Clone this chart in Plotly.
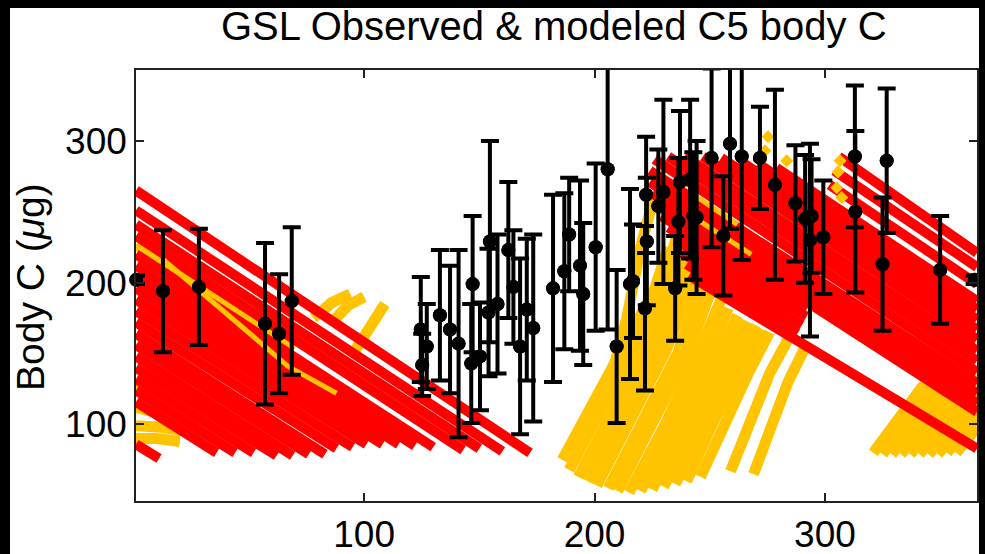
import plotly.graph_objects as go

# ---------------- observed C5 body C (mean +/- error) ----------------
obs_day = [1, 12.7, 28.3, 57.0, 63.1, 68.6,
           124.6, 127.2, 125.2, 132.9, 137.3, 141.0, 147.1, 146.5, 150.3, 154.0, 154.6, 157.9, 162.6, 164.8, 167.7, 170.6, 173.4,
           182.0, 186.9, 189.0, 193.7, 195.1, 200.5, 205.7, 209.6, 215.4, 216.7, 221.9, 222.4, 222.7, 227.7, 229.9, 235.0, 236.4, 237.1, 241.5,
           242.9, 244.3, 250.8, 255.9, 258.8, 263.9, 271.8, 278.3, 287.2, 291.4, 293.5, 294.2, 299.3, 313.0, 313.2, 325.0, 326.8, 350.0, 365.0]
obs_c = [202, 194, 197, 171, 164, 187,
         167, 155, 142, 177, 167, 157, 199, 143, 148, 179, 229, 185, 223, 197, 155, 181, 168,
         196, 208, 234, 212, 192, 225, 280, 155, 199, 201, 182, 262, 229, 254, 264, 196, 243, 271, 273,
         247, 246, 288, 233, 298, 289, 288, 269, 256, 245, 230, 247, 232, 289, 250, 213, 286, 209, 202]
obs_err = [3, 43, 41, 57, 42, 52,
           37, 30, 22, 46, 45, 66, 48, 42, 38, 45, 71, 49, 48, 40, 62, 50, 66,
           66, 55, 40, 60, 50, 59, 113, 54, 67, 40, 58, 41, 45, 40, 65, 37, 45, 50, 56,
           45, 54, 63, 42, 60, 73, 36, 67, 41, 45, 68, 40, 40, 50, 57, 47, 51, 38, 3]

# ---------------- modeled trajectories: declining (red) segments ----------------
red_x0 = [1, 1, 1, 1, 1, 1, 1, 1, 1, 1, 1, 1, 1, 1, 1, 1, 1, 1, 1,
          306, 304, 302, 279, 271, 263, 255, 247, 239, 232, 226, 224, 224, 225, 227, 241,
          229, 232, 235, 238, 240]
red_y0 = [265, 251, 241, 233, 220, 212, 204, 196, 188, 180, 172, 164, 156, 148, 140, 132, 124, 116, 86,
          289, 279, 269, 281, 284, 286, 288, 289, 289, 289, 287, 279, 271, 263, 255, 205,
          247, 239, 230, 221, 213]
red_x1 = [172, 160, 150, 143, 130, 122, 115, 108, 101, 95, 88, 83, 76, 69, 62, 52, 44, 36, 11,
          366, 366, 366, 366, 366, 366, 366, 366, 366, 366, 366, 366, 366, 366, 366, 366,
          292, 292, 292, 290, 288]
red_y1 = [80, 81, 83, 82, 84, 85, 86, 86, 86, 84, 83, 79, 79, 78, 78, 80, 80, 80, 76,
          221, 211, 199, 187, 181, 174, 167, 160, 152, 145, 137, 129, 122, 115, 109, 83,
          184, 181, 176, 170, 164]

# ---------------- modeled trajectories: growth (yellow) paths ----------------
yellow_day = [
    [1, 70], [1, 14, 30], [1, 13, 29], [1, 12, 28], [1, 10, 20],
    [78, 86, 94], [86, 93, 100], [96, 103, 109],
    [186, 200, 215, 226, 232], [205, 214, 220, 226],
    [189, 204, 219, 230, 236], [193, 208, 223, 234, 240], [197, 212, 227, 238, 244],
    [201, 216, 231, 242, 247], [206, 221, 236, 246, 250], [210, 225, 240, 250, 254],
    [215, 230, 244, 254, 258], [220, 234, 248, 258], [225, 239, 252, 262],
    [230, 243, 256, 266], [235, 247, 260, 270], [240, 251, 263, 273],
    [246, 256, 267, 276], [259, 267, 276, 284], [269, 276, 284, 291],
    [321, 332, 342, 350], [325, 336, 346, 354], [329, 340, 350, 358], [333, 344, 354, 362],
    [337, 348, 358, 366], [341, 352, 362, 366], [345, 356, 366], [349, 359, 366],
    [353, 362, 366], [357, 366],
]
yellow_c = [
    [227, 154], [128, 116, 102], [112, 107, 98], [99, 98, 94], [90, 90, 88],
    [175, 186, 192], [172, 184, 190], [152, 170, 185],
    [75, 118, 160, 195, 225], [120, 175, 225, 262],
    [68, 114, 160, 200, 235], [63, 110, 157, 200, 240], [60, 106, 155, 200, 240],
    [57, 103, 152, 198, 230], [55, 101, 150, 196, 215], [53, 99, 148, 192, 205],
    [52, 98, 146, 188, 200], [53, 98, 144, 182], [54, 98, 142, 177],
    [56, 99, 140, 173], [58, 99, 139, 170], [60, 100, 138, 167],
    [63, 100, 137, 165], [67, 100, 136, 160], [65, 98, 130, 153],
    [80, 104, 126, 140], [79, 103, 124, 139], [79, 102, 122, 138], [79, 101, 121, 136],
    [79, 101, 120, 134], [79, 100, 118, 125], [79, 99, 117], [79, 99, 111],
    [80, 98, 105], [80, 98],
]

# yellow trajectories that show through on top of the red bands
yellow_top_day = [[13, 67, 88], [243, 262], [246, 268]]
yellow_top_c = [[216, 141, 122], [262, 241], [243, 220]]

# isolated yellow model points near the tops of the declining bands
ydot_day = [274.0, 275.3, 283.4, 305.1, 305.7, 306.6, 307.3]
ydot_c = [293, 303, 286, 267, 278, 286, 260]

x_ticks = [100, 200, 300]
y_ticks = [100, 200, 300]

RED = "#FF0000"
YEL = "#FFC300"
FONT = "Liberation Sans, Arial, Helvetica, sans-serif"


def paths(xs_list, ys_list):
    px_, py_ = [], []
    for xs, ys in zip(xs_list, ys_list):
        px_ += list(xs) + [None]
        py_ += list(ys) + [None]
    return px_, py_


yx, yy = paths(yellow_day, yellow_c)
rx, ry = paths([[a, c] for a, c in zip(red_x0, red_x1)],
               [[b, d] for b, d in zip(red_y0, red_y1)])
ytx, yty = paths(yellow_top_day, yellow_top_c)

fig = go.Figure()
fig.add_trace(go.Scatter(x=yx, y=yy, mode="lines", line=dict(color=YEL, width=11),
                         hoverinfo="skip", showlegend=False))
fig.add_trace(go.Scatter(x=rx, y=ry, mode="lines", line=dict(color=RED, width=10),
                         hoverinfo="skip", showlegend=False))
fig.add_trace(go.Scatter(x=ytx, y=yty, mode="lines", line=dict(color=YEL, width=5),
                         hoverinfo="skip", showlegend=False))
fig.add_trace(go.Scatter(x=ydot_day, y=ydot_c, mode="markers",
                         marker=dict(color=YEL, size=10, symbol="diamond"),
                         hoverinfo="skip", showlegend=False))
fig.add_trace(go.Scatter(x=obs_day, y=obs_c, mode="markers",
                         marker=dict(color="black", size=14, symbol="circle"),
                         error_y=dict(type="data", array=obs_err, visible=True,
                                      color="black", thickness=4, width=9),
                         showlegend=False))
fig.add_trace(go.Scatter(x=obs_day, y=obs_c, mode="markers", cliponaxis=False,
                         marker=dict(color="black", size=14, symbol="circle"),
                         showlegend=False, hoverinfo="skip"))

L, R, T, B = 136, 8, 70, 53
W, H = 985, 554
pw, ph = W - L - R, H - T - B


def px(xp):
    return (xp - L) / pw


def py(yp):
    return (H - B - yp) / ph


shapes = [
    dict(type="rect", xref="paper", yref="paper", x0=px(0), x1=px(10), y0=py(H), y1=py(0),
         fillcolor="black", line=dict(width=0), layer="above"),
    dict(type="rect", xref="paper", yref="paper", x0=px(0), x1=px(W), y0=py(8), y1=py(0),
         fillcolor="black", line=dict(width=0), layer="above"),
    dict(type="rect", xref="paper", yref="paper", x0=px(979), x1=px(W), y0=py(H), y1=py(0),
         fillcolor="black", line=dict(width=0), layer="above"),
]

annotations = [
    dict(text="GSL Observed & modeled C5 body C", xref="paper", yref="paper",
         x=px(554), y=py(26), xanchor="center", yanchor="middle", showarrow=False,
         font=dict(family=FONT, size=40, color="black")),
    dict(text="Body C (<i>μ</i>g)", xref="paper", yref="paper", textangle=-90,
         x=px(30), y=py(287), xanchor="center", yanchor="middle", showarrow=False,
         font=dict(family=FONT, size=39, color="black")),
]

fig.update_layout(
    width=W, height=H, autosize=False,
    margin=dict(l=L, r=R, t=T, b=B, pad=0, autoexpand=False),
    paper_bgcolor="white", plot_bgcolor="white",
    font=dict(family=FONT, color="black"),
    shapes=shapes, annotations=annotations,
    showlegend=False,
)
fig.update_xaxes(range=[1, 366], tickvals=x_ticks, ticktext=[str(v) for v in x_ticks],
                 ticks="inside", ticklen=8, tickwidth=1.5, tickcolor="#222",
                 showline=True, linecolor="#222", linewidth=1.5, mirror="ticks",
                 showgrid=False, zeroline=False, automargin=False,
                 tickfont=dict(size=37, family=FONT))
fig.update_yaxes(range=[46, 350], tickvals=y_ticks, ticktext=[str(v) for v in y_ticks],
                 ticks="inside", ticklen=8, tickwidth=1.5, tickcolor="#222",
                 showline=True, linecolor="#222", linewidth=1.5, mirror="ticks",
                 showgrid=False, zeroline=False, automargin=False,
                 tickfont=dict(size=37, family=FONT))

fig.write_html("out.html", config={"responsive": False, "displayModeBar": False})
